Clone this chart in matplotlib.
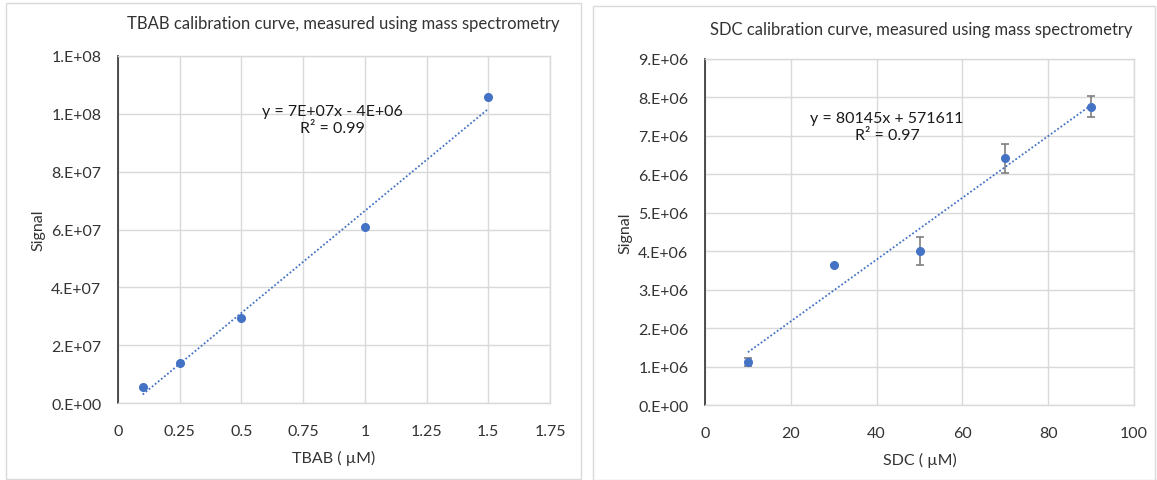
"""
Two Excel-style calibration curves (TBAB and SDC) measured by mass spectrometry.
"""
import numpy as np
import matplotlib
matplotlib.use("Agg")
import matplotlib.pyplot as plt
import matplotlib.patches as mpatches
from matplotlib.ticker import FuncFormatter, MultipleLocator

# ── Data ────────────────────────────────────────────────────────────────────
tbab_conc = [0.1, 0.25, 0.5, 1.0, 1.5]
tbab_signal = [5.7e6, 1.40e7, 2.95e7, 6.09e7, 1.057e8]
tbab_eq = "y = 7E+07x - 4E+06\nR\u00b2 = 0.99"

sdc_conc = [10, 30, 50, 70, 90]
sdc_signal = [1.12e6, 3.63e6, 4.00e6, 6.42e6, 7.76e6]
sdc_err = [0.10e6, 0.0, 0.37e6, 0.38e6, 0.28e6]
sdc_eq = "y = 80145x + 571611\nR\u00b2 = 0.97"

BLUE = "#4472C4"
TEXT = "#333333"
GRID = "#d9d9d9"
FS = 11.5

plt.rcParams["font.family"] = ["Lato", "DejaVu Sans"]


def sci_fmt(v, pos):
    """Excel '0.E+00' style label."""
    if v == 0:
        return "0.E+00"
    e = int(np.floor(np.log10(abs(v))))
    m = int(round(v / 10 ** e))
    if m == 10:
        m, e = 1, e + 1
    return f"{m}.E+{e:02d}"


def style_axes(ax):
    ax.grid(True, color=GRID, linewidth=1.0)
    ax.set_axisbelow(True)
    for side in ("top", "right", "bottom"):
        ax.spines[side].set_color(GRID)
        ax.spines[side].set_linewidth(1.0)
    ax.spines["left"].set_color("#404040")
    ax.spines["left"].set_linewidth(1.3)
    ax.tick_params(length=0, colors=TEXT, labelsize=FS)
    ax.tick_params(axis="x", pad=15)
    ax.tick_params(axis="y", pad=12)
    ax.yaxis.set_major_formatter(FuncFormatter(sci_fmt))


def trendline(ax, x, y):
    x = np.asarray(x, dtype=float)
    y = np.asarray(y, dtype=float)
    k, b = np.polyfit(x, y, 1)
    xs = np.array([x.min(), x.max()])
    ax.plot(xs, k * xs + b, linestyle=(0, (1, 1.2)), color=BLUE, lw=1.3, zorder=3)


fig = plt.figure(figsize=(11.57, 4.81), dpi=100)

# ── Panel borders ───────────────────────────────────────────────────────────
W, H = 1157, 481
for x0, y0, x1, y1 in [(6, 4, 581, 480), (593, 7, 1155, 481)]:
    fig.add_artist(mpatches.Rectangle((x0 / W, 1 - y1 / H), (x1 - x0) / W, (y1 - y0) / H,
                                      transform=fig.transFigure, fill=False,
                                      edgecolor=GRID, lw=1.0))

# ── Left: TBAB ──────────────────────────────────────────────────────────────
ax1 = fig.add_axes([118 / W, 1 - 404 / H, (550 - 118) / W, (404 - 57) / H])
style_axes(ax1)
ax1.set_xlim(0, 1.75)
ax1.set_ylim(0, 1.2e8)
ax1.xaxis.set_major_locator(MultipleLocator(0.25))
ax1.yaxis.set_major_locator(MultipleLocator(2e7))
ax1.xaxis.set_major_formatter(FuncFormatter(lambda v, p: f"{v:g}"))
trendline(ax1, tbab_conc, tbab_signal)
ax1.plot(tbab_conc, tbab_signal, "o", color=BLUE, ms=5.5, zorder=4)
ax1.text(0.87, 0.98e8, tbab_eq, ha="center", va="center", fontsize=FS,
         color="#1a1a1a", linespacing=1.3)
ax1.set_xlabel("TBAB ( \u00b5M)", fontsize=FS, color=TEXT, labelpad=9)
ax1.set_ylabel("Signal", fontsize=FS, color=TEXT, labelpad=4)
fig.text(343 / W, 1 - 24 / H, "TBAB calibration curve, measured using mass spectrometry",
         ha="center", va="center", fontsize=12, color=TEXT)

# ── Right: SDC ──────────────────────────────────────────────────────────────
ax2 = fig.add_axes([705 / W, 1 - 406 / H, (1134 - 705) / W, (406 - 60) / H])
style_axes(ax2)
ax2.set_xlim(0, 100)
ax2.set_ylim(0, 9e6)
ax2.xaxis.set_major_locator(MultipleLocator(20))
ax2.yaxis.set_major_locator(MultipleLocator(1e6))
trendline(ax2, sdc_conc, sdc_signal)
ax2.errorbar(sdc_conc, sdc_signal, yerr=sdc_err, fmt="o", color=BLUE, ms=5.5,
             ecolor="#7f7f7f", elinewidth=1.2, capsize=3, capthick=1.2, zorder=4)
ax2.text(42.4, 7.25e6, sdc_eq, ha="center", va="center", fontsize=FS,
         color="#1a1a1a", linespacing=1.3)
ax2.set_xlabel("SDC ( \u00b5M)", fontsize=FS, color=TEXT, labelpad=9)
ax2.set_ylabel("Signal", fontsize=FS, color=TEXT, labelpad=4)
fig.text(921 / W, 1 - 30 / H, "SDC calibration curve, measured using mass spectrometry",
         ha="center", va="center", fontsize=12, color=TEXT)

fig.savefig("out.png", dpi=100)
plt.close(fig)
